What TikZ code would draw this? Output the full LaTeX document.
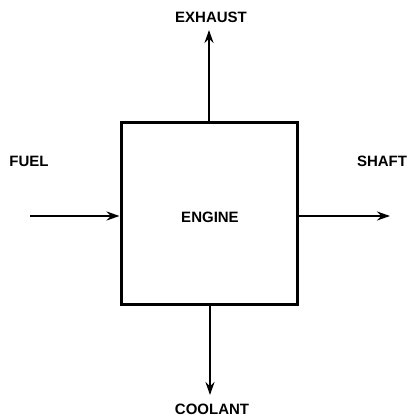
\documentclass[tikz,border=0pt]{standalone}
\usepackage{fontspec}
\setmainfont{Liberation Sans}
\usetikzlibrary{arrows.meta}
\begin{document}
\begin{tikzpicture}[x=1pt,y=1pt,
  lbl/.style={font=\bfseries\fontsize{15}{17}\selectfont, inner sep=0pt},
  flow/.style={line width=2.6pt, -{Stealth[length=13pt,width=9pt]}},
  boxst/.style={draw, line width=3pt, minimum width=176pt, minimum height=182pt, inner sep=0pt}]
\useasboundingbox (0,0) rectangle (407,416);
\node[boxst] (engine) at (209,202) {};
\node[lbl] (enginelbl) at (210,199) {ENGINE};
\coordinate (exhtip) at (209,386);
\coordinate (fuelstart) at (30,200);
\coordinate (shafttip) at (390,200);
\coordinate (cooltip) at (210,21);
\node[lbl] (exhaust) at (211,399) {EXHAUST};
\node[lbl] (fuel) at (29,255) {FUEL};
\node[lbl] (shaft) at (382,255) {SHAFT};
\node[lbl] (coolant) at (212,7) {COOLANT};
\draw[flow] (engine.north) -- (exhtip);
\draw[flow] (fuelstart) -- (fuelstart -| engine.west);
\draw[flow] (shafttip -| engine.east) -- (shafttip);
\draw[flow] (cooltip |- engine.south) -- (cooltip);
\end{tikzpicture}
\end{document}
